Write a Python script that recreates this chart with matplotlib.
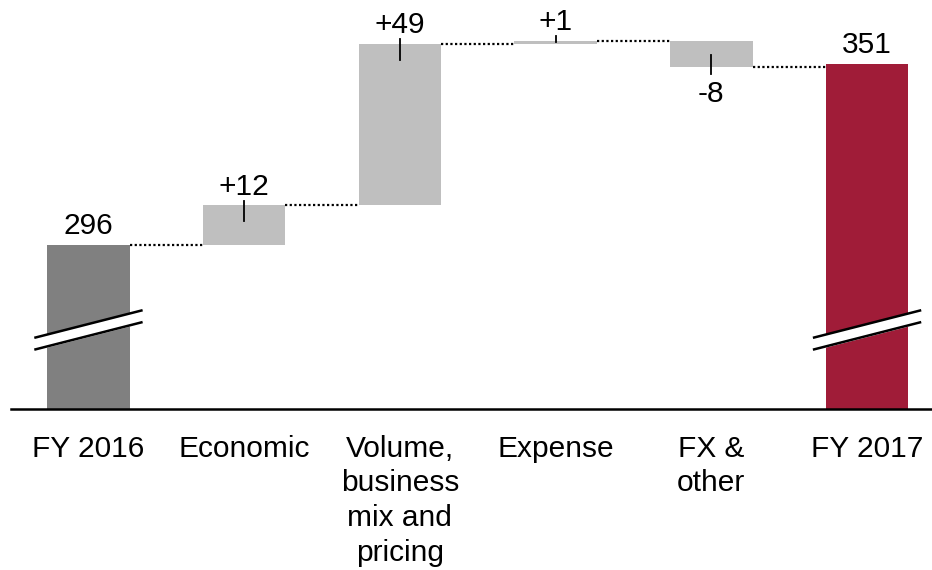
import matplotlib.pyplot as plt
import numpy as np

plt.rcParams['font.family'] = ['Liberation Sans', 'DejaVu Sans']

categories = ['FY 2016', 'Economic', 'Volume,\nbusiness\nmix and\npricing', 'Expense', 'FX &\nother', 'FY 2017']
start_total = 296
deltas = [12, 49, 1, -8]
end_total = 351

dark_grey = '#808080'
light_grey = '#BFBFBF'
red = '#A01C38'
fs = 21.5

fig = plt.figure(figsize=(9.32, 5.70), dpi=100)
ax = fig.add_axes([0.0, 0.2825, 1.0, 0.7175])
y_low, y_high = 246.2, 370.4
x_left, x_right = -0.568, 5.417
ax.set_xlim(x_left, x_right)
ax.set_ylim(y_low, y_high)
ax.axis('off')

width = 0.53
x = np.arange(len(categories))

# totals drawn from the broken baseline
ax.bar(x[0], start_total - y_low, bottom=y_low, width=width, color=dark_grey, zorder=2)
ax.bar(x[-1], end_total - y_low, bottom=y_low, width=width, color=red, zorder=2)

levels = [start_total]
for d in deltas:
    levels.append(levels[-1] + d)

# floating bars for each change
for i, d in enumerate(deltas):
    xi = x[i + 1]
    lo, hi = sorted((levels[i], levels[i + 1]))
    ax.bar(xi, hi - lo, bottom=lo, width=width, color=light_grey, zorder=2)
    inside = min(4.8, 0.45 * abs(d))
    label = f'+{d}' if d > 0 else f'{d}'
    if d > 0:
        ax.plot([xi, xi], [hi + 1.5, hi - inside], color='black', lw=1.3, zorder=3)
        ax.text(xi, hi + 3.3, label, ha='center', va='baseline', fontsize=fs)
    else:
        ax.plot([xi, xi], [lo + inside, lo - 2.1], color='black', lw=1.3, zorder=3)
        ax.text(xi, lo - 10.6, label, ha='center', va='baseline', fontsize=fs)

ax.text(x[0], start_total + 3.3, str(start_total), ha='center', va='baseline', fontsize=fs)
ax.text(x[-1], end_total + 3.3, str(end_total), ha='center', va='baseline', fontsize=fs)

# dotted connectors between neighbouring bars
conn = levels + [end_total]
for i in range(len(categories) - 1):
    ax.plot([x[i] + width / 2, x[i + 1] - width / 2], [conn[i], conn[i]],
            color='black', lw=1.6, ls=(0, (1, 1.1)), zorder=1)

# axis break marks on the total bars
brk_x = 0.34
brk_y = 270.2
slope = 8.2
gap = 3.6
for xi in (x[0], x[-1]):
    xs = np.array([xi - brk_x, xi + brk_x])
    top = brk_y + gap / 2 + np.array([-slope / 2, slope / 2])
    bot = brk_y - gap / 2 + np.array([-slope / 2, slope / 2])
    ax.fill_between(xs, bot, top, color='white', zorder=4, clip_on=False)
    ax.plot(xs, top, color='black', lw=1.8, zorder=5, clip_on=False)
    ax.plot(xs, bot, color='black', lw=1.8, zorder=5, clip_on=False)

# baseline
ax.axhline(y_low, xmin=(-0.498 - x_left) / (x_right - x_left), xmax=1.0,
           color='black', lw=1.8, zorder=6, clip_on=False)

for xi, cat in zip(x, categories):
    ax.text(xi, y_low - 7.8, cat, ha='center', va='top', fontsize=fs, linespacing=1.31)

fig.savefig('out.png', dpi=100)
